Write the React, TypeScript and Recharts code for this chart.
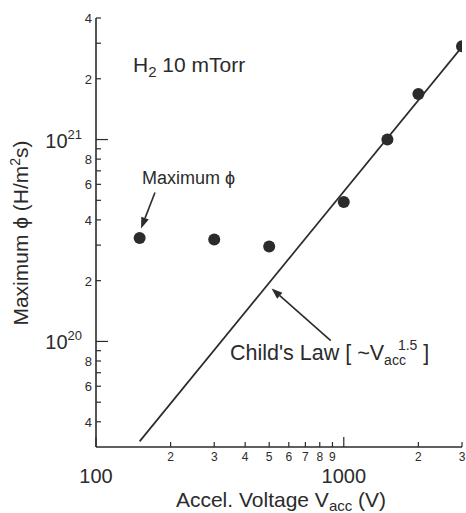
import React from "react";
import { ComposedChart, XAxis, YAxis, Scatter, Line, ReferenceLine } from "recharts";

// measured points (H2, 10 mTorr)
const voltage = [150, 300, 500, 1000, 1500, 2000, 3000];
const maxFlux = [3.25e20, 3.2e20, 2.95e20, 4.9e20, 1.0e21, 1.68e21, 2.9e21];

// Child's law guide line (~V^1.5), two end points
const childVoltage = [150, 3000];
const childFlux = [3.2e19, 2.88e21];

const xTicks = [100, 200, 300, 400, 500, 600, 700, 800, 900, 1000, 2000, 3000];
const xTickLabels = ["100", "2", "3", "4", "5", "6", "7", "8", "9", "1000", "2", "3"];
const yTicks = [
  4e19, 5e19, 6e19, 7e19, 8e19, 9e19, 1e20, 2e20, 3e20, 4e20, 5e20, 6e20, 7e20, 8e20, 9e20, 1e21,
  2e21, 3e21, 4e21,
];
const yTickLabels = ["4", "", "6", "", "8", "", "20", "2", "", "4", "", "6", "", "8", "", "21", "2", "", "4"];

const pointData = voltage.map((v, i) => ({ v, flux: maxFlux[i] }));
const childData = childVoltage.map((v, i) => ({ v, flux: childFlux[i] }));

const INK = "#2b2b2b";
const FONT = "'Liberation Sans', Arial, Helvetica, sans-serif";

const isDecade = (v: number) => Math.abs(Math.log10(v) - Math.round(Math.log10(v))) < 1e-6;

const BottomTick = (props: any) => {
  const { x, y, payload, index } = props;
  const major = isDecade(payload.value);
  const label = xTickLabels[index];
  return (
    <g>
      <line x1={x} y1={y} x2={x} y2={y - (major ? 10 : 5)} stroke={INK} strokeWidth={1.2} />
      {major ? (
        <text x={x} y={y + 36} textAnchor="middle" fontSize={20} fill={INK} fontFamily={FONT}>
          {label}
        </text>
      ) : (
        <text x={x} y={y + 14} textAnchor="middle" fontSize={12} fill={INK} fontFamily={FONT}>
          {label}
        </text>
      )}
    </g>
  );
};

const TopTick = (props: any) => {
  const { x, y, payload } = props;
  const major = isDecade(payload.value);
  return <line x1={x} y1={y} x2={x} y2={y + (major ? 10 : 5)} stroke={INK} strokeWidth={1.2} />;
};

const LeftTick = (props: any) => {
  const { x, y, payload, index } = props;
  const major = isDecade(payload.value);
  const label = yTickLabels[index];
  return (
    <g>
      <line x1={x} y1={y} x2={x + (major ? 12 : 5)} y2={y} stroke={INK} strokeWidth={1.2} />
      {major ? (
        <text x={x - 14} y={y + 8} textAnchor="end" fontSize={20} fill={INK} fontFamily={FONT}>
          10
          <tspan fontSize={13} dy={-9}>
            {label}
          </tspan>
        </text>
      ) : (
        <text x={x - 4} y={y + 5} textAnchor="end" fontSize={13} fill={INK} fontFamily={FONT}>
          {label}
        </text>
      )}
    </g>
  );
};

const RightTick = (props: any) => {
  const { x, y, payload } = props;
  const major = isDecade(payload.value);
  return <line x1={x} y1={y} x2={x - (major ? 12 : 5)} y2={y} stroke={INK} strokeWidth={1.2} />;
};

const Arrow = (props: any) => {
  const { x1, y1, x2, y2 } = props;
  const ang = Math.atan2(y2 - y1, x2 - x1);
  const len = 11;
  const w = 4;
  const bx = x2 - len * Math.cos(ang);
  const by = y2 - len * Math.sin(ang);
  const px = -Math.sin(ang) * w;
  const py = Math.cos(ang) * w;
  return (
    <g>
      <line x1={x1} y1={y1} x2={bx} y2={by} stroke={INK} strokeWidth={1.6} />
      <path d={`M${x2},${y2} L${bx + px},${by + py} L${bx - px},${by - py} Z`} fill={INK} />
    </g>
  );
};

const Dot = (props: any) => <circle cx={props.cx} cy={props.cy} r={6} fill={INK} />;

export default function App() {
  return (
    <div style={{ position: "absolute", left: 0, top: 0, width: 466, height: 513, background: "#fff" }}>
      <ComposedChart width={466} height={513} margin={{ top: 18, right: 4, bottom: 0, left: 0 }}>
        <XAxis
          dataKey="v"
          type="number"
          scale="log"
          domain={[100, 3000]}
          allowDataOverflow
          ticks={xTicks}
          interval={0}
          height={66}
          tickSize={0}
          tickMargin={0}
          tickLine={false}
          tick={<BottomTick />}
          axisLine={{ stroke: INK, strokeWidth: 1.6 }}
        />
        <XAxis
          xAxisId="top"
          orientation="top"
          type="number"
          scale="log"
          domain={[100, 3000]}
          allowDataOverflow
          ticks={xTicks}
          interval={0}
          height={0}
          tickSize={0}
          tickMargin={0}
          tickLine={false}
          tick={<TopTick />}
          axisLine={{ stroke: INK, strokeWidth: 1.6 }}
        />
        <YAxis
          type="number"
          scale="log"
          domain={[3e19, 4e21]}
          allowDataOverflow
          ticks={yTicks}
          interval={0}
          width={96}
          tickSize={0}
          tickMargin={0}
          tickLine={false}
          tick={<LeftTick />}
          axisLine={{ stroke: INK, strokeWidth: 1.6 }}
        />
        <YAxis
          yAxisId="right"
          orientation="right"
          type="number"
          scale="log"
          domain={[3e19, 4e21]}
          allowDataOverflow
          ticks={yTicks}
          interval={0}
          width={0}
          tickSize={0}
          tickMargin={0}
          tickLine={false}
          tick={<RightTick />}
          axisLine={{ stroke: INK, strokeWidth: 1.6 }}
        />
        <Line
          data={childData}
          dataKey="flux"
          type="linear"
          stroke={INK}
          strokeWidth={1.7}
          dot={false}
          activeDot={false}
          isAnimationActive={false}
        />
        <Scatter data={pointData} dataKey="flux" shape={<Dot />} isAnimationActive={false} />
        <ReferenceLine
          segment={[
            { x: 173, y: 5.47e20 },
            { x: 152, y: 3.63e20 },
          ]}
          shape={<Arrow />}
        />
        <ReferenceLine
          segment={[
            { x: 886, y: 1.01e20 },
            { x: 511, y: 1.83e20 },
          ]}
          shape={<Arrow />}
        />
      </ComposedChart>
      <svg
        width={466}
        height={513}
        style={{ position: "absolute", left: 0, top: 0, pointerEvents: "none" }}
        fontFamily={FONT}
        fill={INK}
      >
        <text x={133} y={72} fontSize={21}>
          H
          <tspan fontSize={15} dy={5}>
            2
          </tspan>
          <tspan dy={-5}> 10 mTorr</tspan>
        </text>
        <text x={142} y={184} fontSize={18}>
          Maximum ϕ
        </text>
        <text x={230} y={360} fontSize={21.5}>
          Child's Law [ ~V
          <tspan fontSize={14} dy={5}>
            acc
          </tspan>
          <tspan fontSize={14} dx={-8} dy={-15}>
            1.5
          </tspan>
          <tspan dy={10}> ]</tspan>
        </text>
        <text x={281} y={507} fontSize={21} textAnchor="middle">
          Accel. Voltage V
          <tspan fontSize={15} dy={4}>
            acc
          </tspan>
          <tspan dy={-4}> (V)</tspan>
        </text>
        <text x={28} y={233} fontSize={21} textAnchor="middle" transform="rotate(-90 28 233)">
          Maximum ϕ (H/m
          <tspan fontSize={14} dy={-8}>
            2
          </tspan>
          <tspan dy={8}>s)</tspan>
        </text>
      </svg>
    </div>
  );
}
